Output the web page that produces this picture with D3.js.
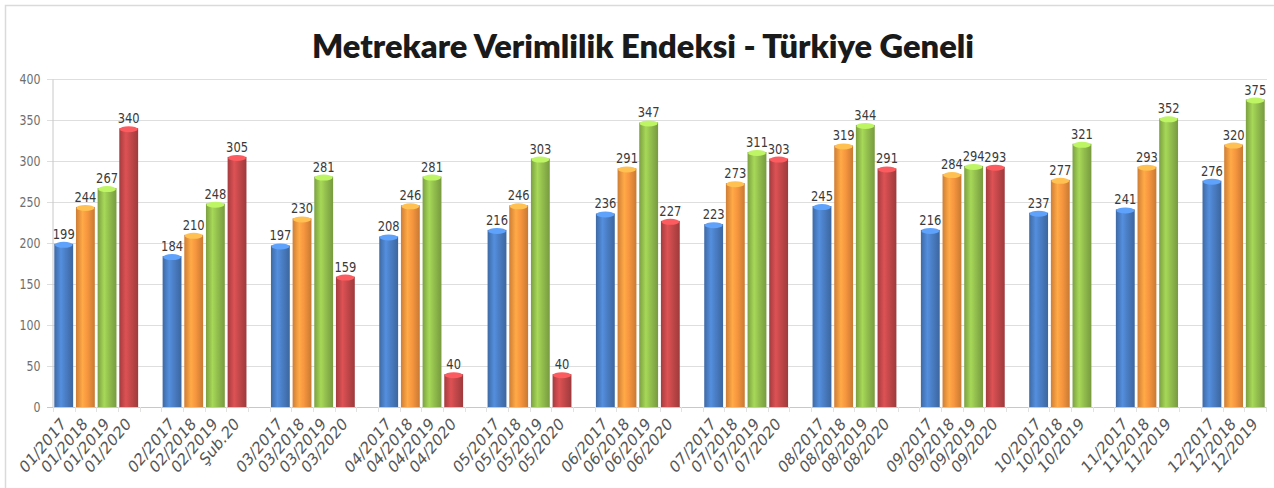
<!DOCTYPE html>
<html>
<head>
<meta charset="utf-8">
<script src="https://cdn.jsdelivr.net/npm/d3@7"></script>
<style>
  html, body { margin: 0; padding: 0; background: #ffffff; }
  svg { display: block; }
</style>
</head>
<body>
<svg id="chart" width="1274" height="488"></svg>
<script>
// ---------- DATA ----------
const title = "Metrekare Verimlilik Endeksi - Türkiye Geneli";
const months = ["01","02","03","04","05","06","07","08","09","10","11","12"];
const years = ["2017","2018","2019","2020"];
const v2017 = [199,184,197,208,216,236,223,245,216,237,241,276];
const v2018 = [244,210,230,246,246,291,273,319,284,277,293,320];
const v2019 = [267,248,281,281,303,347,311,344,294,321,352,375];
const v2020 = [340,305,159,40,40,227,303,291,293,null,null,null];
const labels2017 = ["01/2017","02/2017","03/2017","04/2017","05/2017","06/2017","07/2017","08/2017","09/2017","10/2017","11/2017","12/2017"];
const labels2018 = ["01/2018","02/2018","03/2018","04/2018","05/2018","06/2018","07/2018","08/2018","09/2018","10/2018","11/2018","12/2018"];
const labels2019 = ["01/2019","02/2019","03/2019","04/2019","05/2019","06/2019","07/2019","08/2019","09/2019","10/2019","11/2019","12/2019"];
const labels2020 = ["01/2020","Şub.20","03/2020","04/2020","05/2020","06/2020","07/2020","08/2020","09/2020","","",""];
const yTicks = [0,50,100,150,200,250,300,350,400];

// ---------- STYLE ----------
const colors = {"2017":"#4a7ec4","2018":"#f7963f","2019":"#93bf4e","2020":"#c4484a"};
const seriesVals = {"2017":v2017,"2018":v2018,"2019":v2019,"2020":v2020};
const seriesLabels = {"2017":labels2017,"2018":labels2018,"2019":labels2019,"2020":labels2020};
const STRETCH = 1.2;

const svg = d3.select("#chart");
const defs = svg.append("defs");

// border
svg.append("rect").attr("x",5.5).attr("y",5.5).attr("width",1290).attr("height",500)
  .attr("fill","none").attr("stroke","#dadada").attr("stroke-width",1.5);

// ---------- build slots ----------
const slots = [];
months.forEach((m, mi) => {
  years.forEach(y => {
    const v = seriesVals[y][mi];
    if (v !== null && v !== undefined) {
      slots.push({key: m + "-" + y, month: m, year: y, value: v, label: seriesLabels[y][mi]});
    }
  });
  if (mi < months.length - 1) slots.push({key: "gap-" + m, gap: true});
});

const x = d3.scaleBand().domain(slots.map(d => d.key)).range([53, 1266])
  .paddingInner(0.13).paddingOuter(0.06);
const y = d3.scaleLinear().domain([0, 400]).range([407, 79]);

// gridlines
svg.append("g").selectAll("line").data(yTicks).join("line")
  .attr("x1", 47).attr("x2", 1267)
  .attr("y1", d => Math.round(y(d)) + 0.5).attr("y2", d => Math.round(y(d)) + 0.5)
  .attr("stroke", d => d === 0 ? "#c8c8c8" : "#dedede").attr("stroke-width", 1);

// y axis
const yAxis = svg.append("g").attr("transform", "translate(52.5,0)")
  .call(d3.axisLeft(y).tickValues(yTicks).tickSize(0).tickPadding(12));
yAxis.select(".domain").attr("stroke", "#c8c8c8");
yAxis.selectAll("text")
  .attr("font-family", "DejaVu Sans, Verdana, sans-serif")
  .attr("font-size", 11).attr("fill", "#6e6e6e")
  .attr("transform", `scale(1,${STRETCH})`);

// x tick marks between slots
const step = x.step();
svg.append("g").selectAll("line").data(d3.range(slots.length + 1)).join("line")
  .attr("x1", i => Math.round(53 + x.paddingOuter()*step - x.paddingInner()*step/2 + i*step) + 0.5)
  .attr("x2", i => Math.round(53 + x.paddingOuter()*step - x.paddingInner()*step/2 + i*step) + 0.5)
  .attr("y1", 407).attr("y2", 412).attr("stroke", "#e2e2e2");

// gradients for 3D look
years.forEach(yr => {
  const c = d3.color(colors[yr]);
  const g = defs.append("linearGradient").attr("id", "g" + yr)
    .attr("x1", "0%").attr("x2", "100%").attr("y1", "0%").attr("y2", "0%");
  g.append("stop").attr("offset", "0%").attr("stop-color", c.darker(0.5));
  g.append("stop").attr("offset", "35%").attr("stop-color", c.brighter(0.35));
  g.append("stop").attr("offset", "60%").attr("stop-color", c);
  g.append("stop").attr("offset", "100%").attr("stop-color", c.darker(0.6));
});

const bars = slots.filter(d => !d.gap);
const bw = x.bandwidth();

// bars
svg.append("g").selectAll("rect").data(bars).join("rect")
  .attr("x", d => x(d.key)).attr("width", bw)
  .attr("y", d => y(d.value)).attr("height", d => y(0) - y(d.value))
  .attr("fill", d => `url(#g${d.year})`);

// top caps
svg.append("g").selectAll("ellipse").data(bars).join("ellipse")
  .attr("cx", d => x(d.key) + bw/2).attr("cy", d => y(d.value) + 1)
  .attr("rx", bw/2 - 0.5).attr("ry", 3)
  .attr("fill", d => d3.color(colors[d.year]).brighter(0.7));

// value labels
svg.append("g").selectAll("text").data(bars).join("text")
  .attr("transform", d => `translate(${x(d.key) + bw/2},${y(d.value) - 5}) scale(1,${STRETCH})`)
  .attr("text-anchor", "middle")
  .attr("font-family", "DejaVu Sans, Verdana, sans-serif")
  .attr("font-size", 11.5).attr("fill", "#3a3a3a")
  .text(d => d.value);

// x labels (rotated)
svg.append("g").selectAll("text").data(bars).join("text")
  .attr("transform", d => `translate(${x(d.key) + bw/2 + 3},${425}) scale(1,${STRETCH}) rotate(-45)`)
  .attr("text-anchor", "end")
  .attr("font-family", "DejaVu Sans, Verdana, sans-serif")
  .attr("font-size", 14).attr("fill", "#555555")
  .text(d => d.label);

// title
svg.append("text")
  .attr("transform", `translate(643,58) scale(1,${STRETCH})`)
  .attr("text-anchor", "middle")
  .attr("font-family", "Lato, 'Open Sans', sans-serif")
  .attr("font-weight", 800).attr("font-size", 27)
  .attr("textLength", 662).attr("lengthAdjust", "spacingAndGlyphs")
  .attr("fill", "#1a1a1a")
  .text(title);
</script>
</body>
</html>
